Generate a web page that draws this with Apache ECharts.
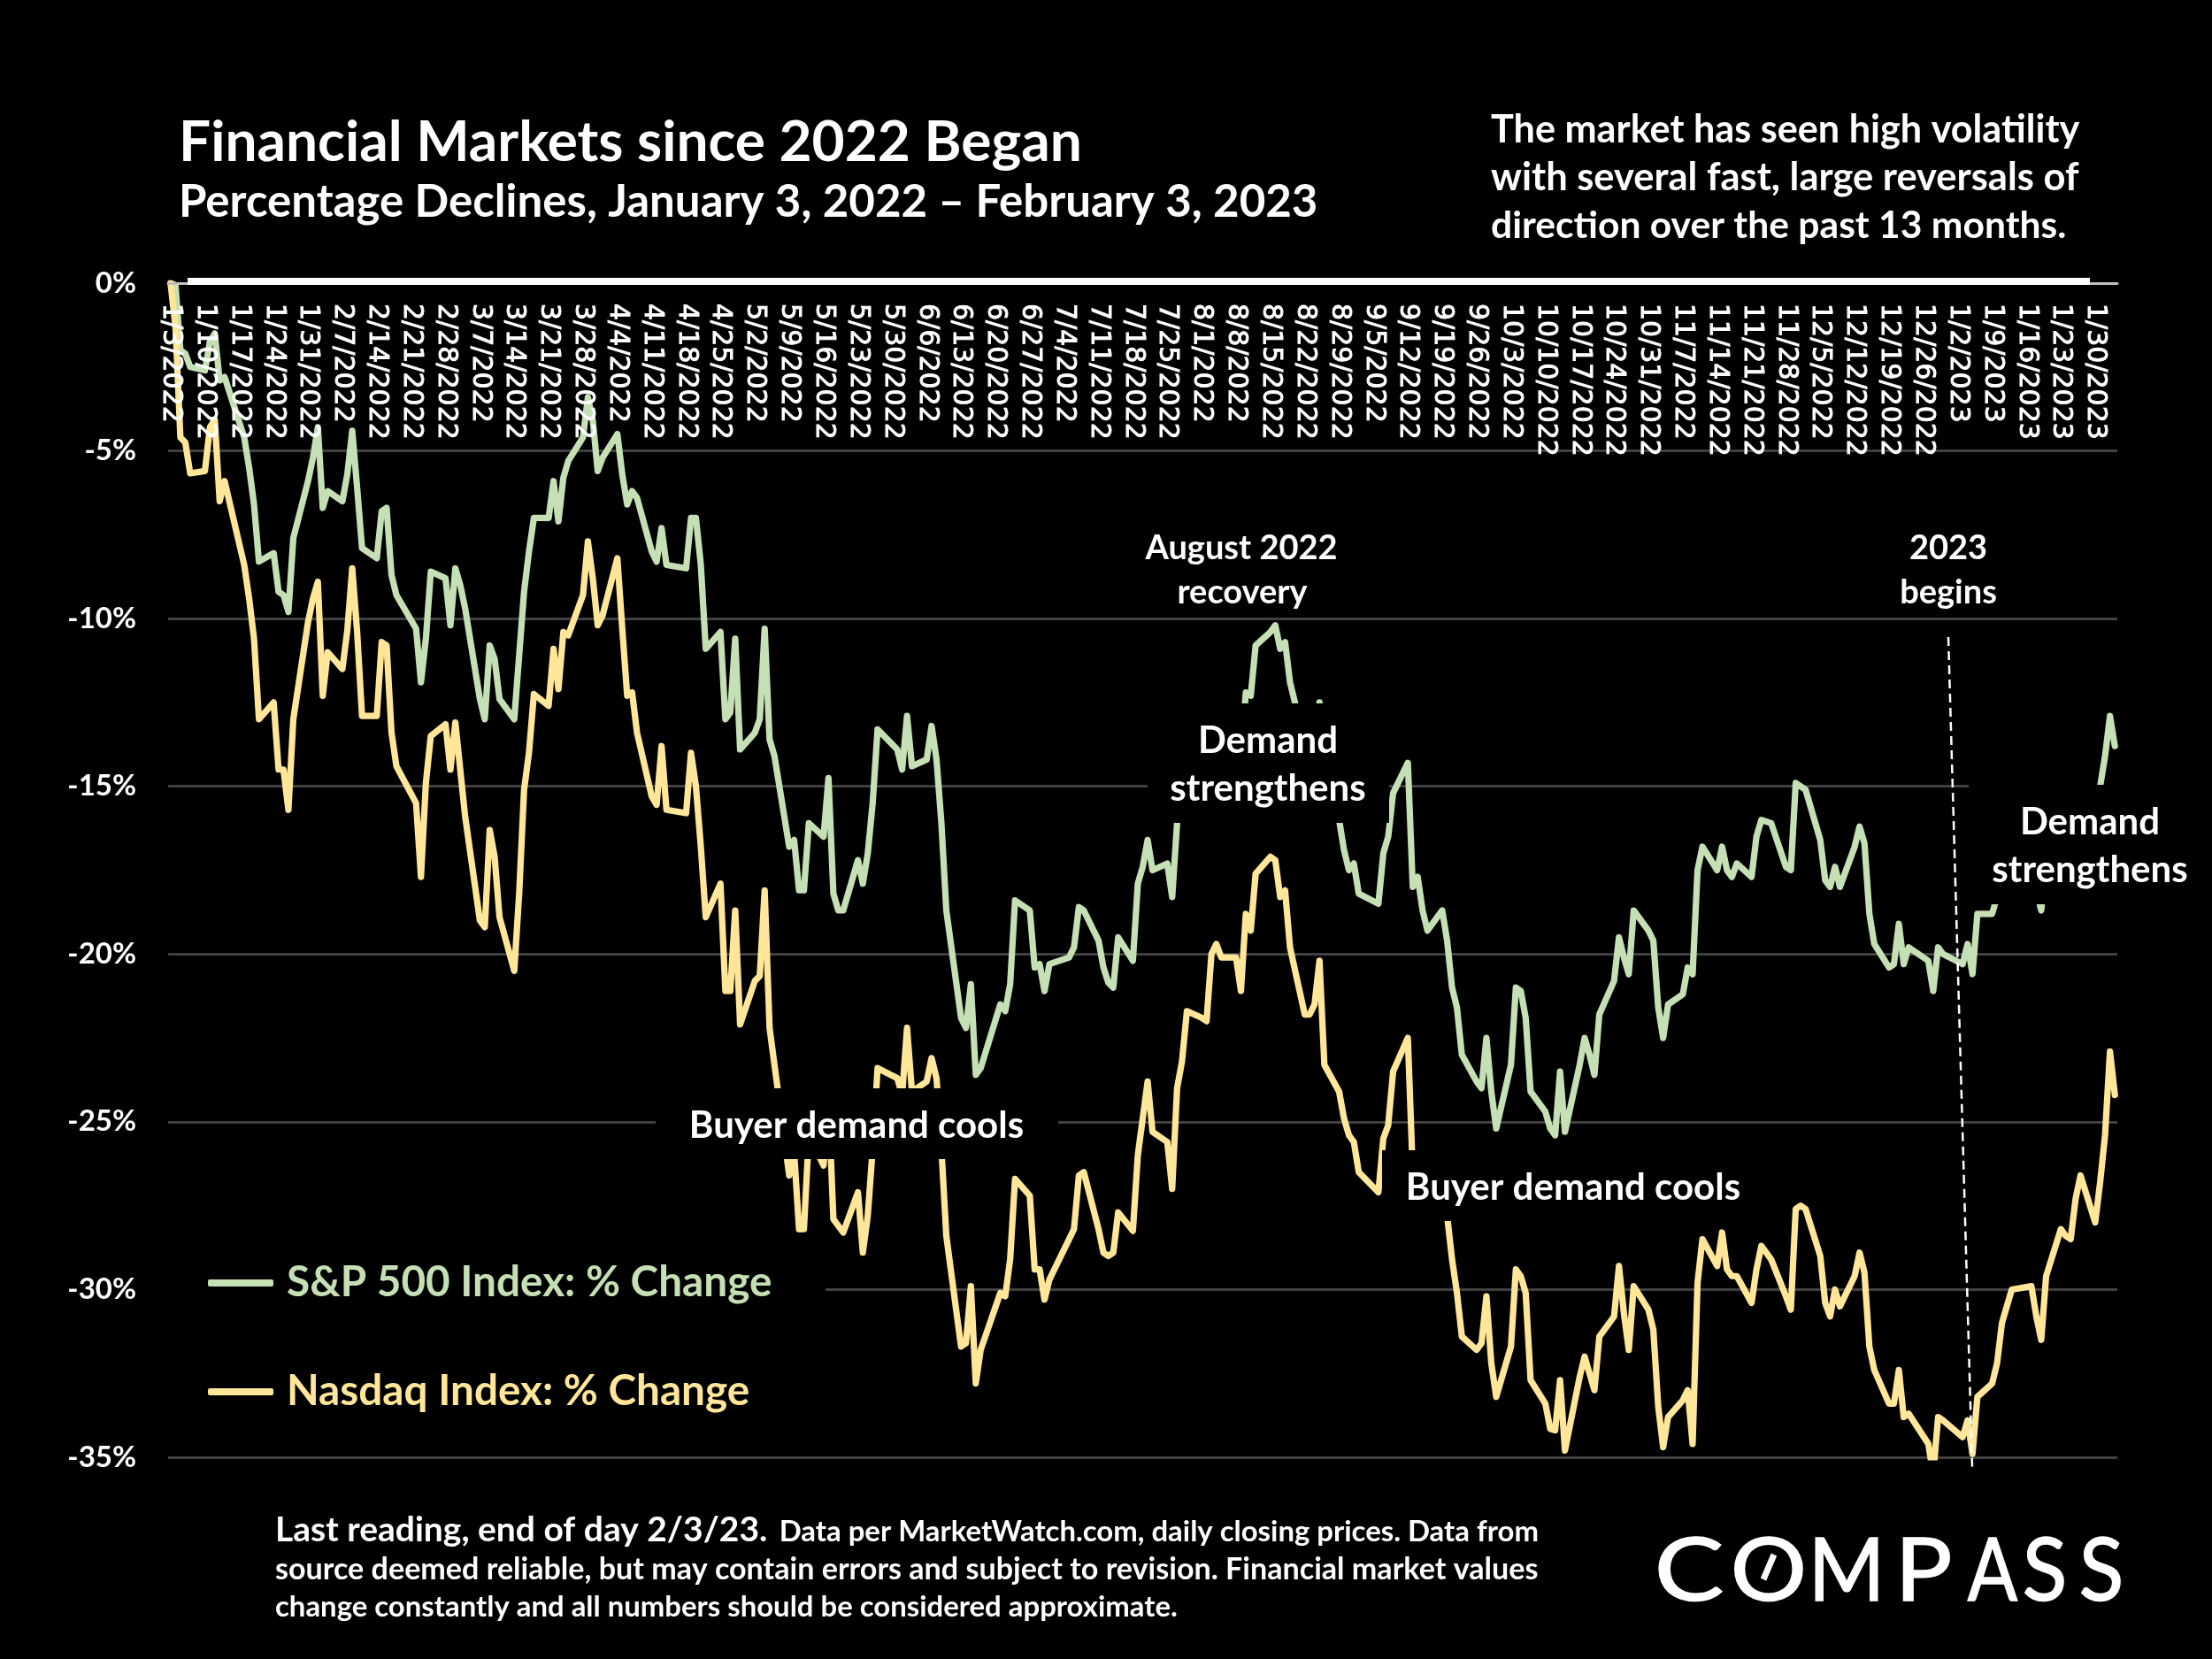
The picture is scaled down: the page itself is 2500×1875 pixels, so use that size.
<!DOCTYPE html>
<html><head><meta charset="utf-8">
<style>html,body{margin:0;padding:0;background:#000}#c{width:2500px;height:1875px}</style>
<script src="https://cdn.jsdelivr.net/npm/echarts@6/dist/echarts.min.js"></script>
</head><body><div id="c"></div>
<script>
// One row per week, Monday to Friday; null = market closed.
const firstMonday = [2022, 0, 3];
const sp500 = [
0,-0.06,-2.0,-2.1,-2.5,
-2.6,-1.75,-1.5,-2.9,-2.8,
null,-4.6,-5.5,-6.6,-8.3,
-8.05,-9.2,-9.3,-9.8,-7.6,
-5.9,-5.2,-4.3,-6.7,-6.2,
-6.5,-5.7,-4.4,-6.1,-7.9,
-8.2,-6.8,-6.7,-8.7,-9.3,
null,-10.3,-11.9,-10.6,-8.6,
-8.8,-10.2,-8.5,-9.0,-9.7,
-12.4,-13.0,-10.8,-11.2,-12.4,
-13.0,-11.1,-9.2,-8.0,-7.0,
-7.0,-5.9,-7.1,-5.8,-5.3,
-4.6,-3.4,-4.1,-5.6,-5.2,
-4.5,-5.7,-6.6,-6.2,-6.4,
-8.0,-8.3,-7.3,-8.4,null,
-8.5,-7.0,-7.0,-8.4,-10.9,
-10.4,-13.0,-12.8,-10.6,-13.9,
-13.4,-13.0,-10.3,-13.6,-14.1,
-16.8,-16.6,-18.1,-18.1,-16.1,
-16.5,-14.75,-18.2,-18.7,-18.7,
-17.2,-17.9,-17.0,-15.5,-13.3,
null,-13.9,-14.5,-12.9,-14.4,
-14.2,-13.2,-14.2,-16.1,-18.7,
-21.9,-22.2,-20.9,-23.6,-23.4,
null,-21.5,-21.7,-20.9,-18.4,
-18.7,-20.4,-20.3,-21.1,-20.3,
null,-20.1,-19.8,-18.6,-18.7,
-19.6,-20.4,-20.85,-21.0,-19.5,
-20.2,-17.9,-17.4,-16.6,-17.5,
-17.3,-18.3,-16.1,-15.1,-13.9,
-14.1,-14.7,-13.4,-13.4,-13.6,
-13.7,-14.1,-12.2,-12.3,-10.8,
-10.4,-10.2,-10.9,-10.7,-11.9,
-13.7,-13.9,-13.7,-12.5,-15.4,
-16.0,-16.9,-17.5,-17.3,-18.2,
null,-18.5,-17.0,-16.5,-15.2,
-14.3,-18.0,-17.7,-18.7,-19.3,
-18.7,-19.6,-21.0,-21.6,-23.0,
-23.8,-24.0,-22.5,-24.1,-25.2,
-23.3,-21.0,-21.1,-21.9,-24.1,
-24.7,-25.2,-25.4,-23.5,-25.3,
-23.3,-22.5,-23.0,-23.6,-21.8,
-20.8,-19.5,-20.1,-20.6,-18.7,
-19.3,-19.6,-21.6,-22.5,-21.5,
-21.2,-20.4,-20.6,-17.5,-16.8,
-17.5,-16.8,-17.5,-17.7,-17.3,
-17.7,-16.5,-16.0,null,-16.1,
-17.4,-17.5,-14.9,-15.0,-15.1,
-16.6,-17.8,-18.0,-17.4,-18.0,
-16.8,-16.2,-16.7,-18.8,-19.7,
-20.4,-20.3,-19.1,-20.3,-19.8,
null,-20.2,-21.1,-19.8,-20.0,
null,-20.3,-19.7,-20.6,-18.8,
-18.8,-18.3,-17.2,-17.0,-16.6,
null,-16.8,-18.1,-18.7,-17.2,
-16.2,-16.3,-16.3,-15.4,-15.1,
-16.3,-15.0,-14.1,-12.9,-13.8
];
const nasdaq = [
0,-1.3,-4.6,-4.75,-5.67,
-5.6,-4.3,-4.07,-6.5,-5.9,
null,-8.4,-9.4,-10.6,-13.0,
-12.5,-14.5,-14.5,-15.7,-13.0,
-10.1,-9.4,-8.9,-12.3,-11.0,
-11.5,-10.35,-8.5,-10.4,-12.9,
-12.9,-10.7,-10.8,-13.4,-14.4,
null,-15.5,-17.7,-14.9,-13.5,
-13.15,-14.5,-13.1,-14.5,-15.9,
-19.0,-19.2,-16.3,-17.1,-18.9,
-20.5,-18.2,-15.1,-14.0,-12.25,
-12.6,-10.9,-12.1,-10.4,-10.5,
-9.3,-7.7,-8.8,-10.2,-9.9,
-8.2,-10.3,-12.3,-12.2,-13.4,
-15.3,-15.55,-13.8,-15.7,null,
-15.8,-14.0,-15.0,-16.8,-18.9,
-17.9,-21.1,-21.1,-18.7,-22.1,
-20.8,-20.65,-18.1,-22.2,-23.3,
-26.6,-25.9,-28.2,-28.2,-25.4,
-26.3,-24.3,-27.9,-28.1,-28.3,
-27.1,-28.9,-27.8,-25.8,-23.4,
null,-23.7,-24.2,-22.2,-24.1,
-23.8,-23.1,-23.7,-25.8,-28.4,
-31.7,-31.6,-29.9,-32.8,-31.8,
null,-30.1,-30.2,-29.1,-26.7,
-27.2,-29.4,-29.4,-30.3,-29.7,
null,-28.5,-28.2,-26.6,-26.5,
-28.2,-28.9,-29.0,-28.9,-27.7,
-28.25,-26.0,-24.9,-23.8,-25.3,
-25.6,-27.0,-24.0,-23.2,-21.7,
-21.9,-22.0,-20.0,-19.7,-20.1,
-20.1,-21.1,-18.8,-19.3,-17.6,
-17.1,-17.2,-18.3,-18.1,-19.8,
-21.8,-21.8,-21.5,-20.2,-23.3,
-24.1,-24.9,-25.4,-25.6,-26.5,
null,-27.1,-25.5,-25.1,-23.5,
-22.5,-26.5,-26.0,-27.0,-27.7,
-27.1,-27.8,-29.1,-30.1,-31.4,
-31.8,-31.6,-30.2,-32.2,-33.2,
-31.7,-29.4,-29.6,-30.1,-32.7,
-33.4,-34.15,-34.2,-32.7,-34.8,
-32.6,-32.0,-32.5,-33.0,-31.4,
-30.8,-29.3,-30.7,-31.8,-29.9,
-30.6,-31.2,-33.5,-34.7,-33.8,
-33.3,-33.0,-34.6,-29.8,-28.5,
-29.3,-28.3,-29.4,-29.6,-29.6,
-30.4,-29.4,-28.7,null,-29.1,
-30.2,-30.6,-27.6,-27.5,-27.6,
-29.0,-30.4,-30.8,-30.0,-30.5,
-29.6,-28.9,-29.5,-31.7,-32.4,
-33.4,-33.4,-32.4,-33.8,-33.7,
null,-34.6,-35.5,-33.8,-33.9,
null,-34.4,-33.9,-34.9,-33.2,
-32.8,-32.2,-31.0,-30.5,-30.0,
null,-29.9,-30.8,-31.5,-29.6,
-28.2,-28.4,-28.5,-27.3,-26.6,
-28.0,-26.8,-25.4,-22.9,-24.2
];
const seriesNames = ['S&P 500 Index: % Change', 'Nasdaq Index: % Change'];

// Calendar-day category axis, as a date axis: weekends carry no value.
const categories = [], spByDay = [], nqByDay = [];
for (let w = 0; w < sp500.length / 5; w++) {
  for (let d = 0; d < 7; d++) {
    const dt = new Date(firstMonday[0], firstMonday[1], firstMonday[2] + w * 7 + d);
    if (w === sp500.length / 5 - 1 && d > 4) break;
    categories.push((dt.getMonth() + 1) + '/' + dt.getDate() + '/' + dt.getFullYear());
    spByDay.push(d < 5 ? sp500[w * 5 + d] : null);
    nqByDay.push(d < 5 ? nasdaq[w * 5 + d] : null);
  }
}

const WHITE = '#ffffff', GREEN = '#C5E0B4', YELLOW = '#FFE699', GRID = '#404040';
const F = 'Lato, sans-serif';

function txt(text, x, baseline, size, align, weight, sx) {
  return { type: 'text', z: 12, x: x, y: baseline - size * 0.3 + 1, scaleX: sx || 1,
    style: { text: text, fill: WHITE, font: (weight || 700) + ' ' + size + 'px ' + F, align: align || 'left', verticalAlign: 'middle' } };
}
function logoLetter(text, x, sx) {
  const el = txt(text, x, 1806, 98, 'center', 400, sx);
  el.style.stroke = WHITE;
  el.style.lineWidth = 1.5;
  return el;
}
function mask(x, y, w, h) {
  return { type: 'rect', z: 10, shape: { x: x, y: y, width: w, height: h }, style: { fill: '#000' } };
}

const graphics = [
  // black text boxes that sit over the lines
  mask(741, 1230, 455, 80),
  mask(1562, 1300, 413, 80),
  mask(1297, 795, 273, 135),
  mask(2225, 887, 275, 135),
  mask(185, 1440, 748, 40),
  // top rule
  { type: 'rect', z: 11, shape: { x: 212, y: 314, width: 2150, height: 8 }, style: { fill: WHITE } },
  // 2023 divider
  { type: 'line', z: 11, shape: { x1: 2202, y1: 720, x2: 2229, y2: 1658 }, style: { stroke: WHITE, lineWidth: 2.5, lineDash: [10, 6] } },
  txt('Financial Markets since 2022 Began', 202, 180, 64),
  txt('Percentage Declines, January 3, 2022 – February 3, 2023', 202, 243, 51),
  txt('The market has seen high volatility', 1685, 159, 43.2),
  txt('with several fast, large reversals of', 1685, 213, 43.5),
  txt('direction over the past 13 months.', 1685, 267, 42.6),
  txt('August 2022', 1403, 630.5, 38, 'center'),
  txt('recovery', 1404, 680.5, 38, 'center'),
  txt('2023', 2202, 630.5, 38, 'center'),
  txt('begins', 2202, 680.5, 38, 'center'),
  txt('Demand', 1433, 849, 42, 'center'),
  txt('strengthens', 1433, 903, 42, 'center'),
  txt('Demand', 2362, 941, 42, 'center'),
  txt('strengthens', 2362, 995, 42, 'center'),
  txt('Buyer demand cools', 968, 1284, 42, 'center'),
  txt('Buyer demand cools', 1778, 1354, 42, 'center'),
  txt('Last reading, end of day 2/3/23.', 311, 1740, 39),
  txt('Data per MarketWatch.com, daily closing prices. Data from', 1739, 1740, 32.9, 'right'),
  txt('source deemed reliable, but may contain errors and subject to revision. Financial market values', 311, 1783, 34.1),
  txt('change constantly and all numbers should be considered approximate.', 311, 1825, 32.9),
  // wordmark
  logoLetter('C', 1909, 1.2),
  logoLetter('O', 1999, 1.1),
  { type: 'line', z: 12, shape: { x1: 1993, y1: 1785, x2: 2005, y2: 1757 }, style: { stroke: WHITE, lineWidth: 7 } },
  logoLetter('M', 2087, 0.95),
  logoLetter('P', 2174, 1.1),
  logoLetter('A', 2252, 0.85),
  logoLetter('S', 2311, 0.95),
  logoLetter('S', 2375, 0.95)
];

const chart = echarts.init(document.getElementById('c'), null, { renderer: 'canvas', width: 2500, height: 1875 });
chart.setOption({
  backgroundColor: '#000',
  animation: false,
  grid: { left: 190, top: 320, width: 2203, height: 1327, containLabel: false },
  legend: {
    z: 20, orient: 'vertical', left: 235, top: 1426, padding: 0, itemGap: 75, itemWidth: 74, itemHeight: 8,
    icon: 'roundRect', selectedMode: false,
    textStyle: { color: 'inherit', fontFamily: F, fontWeight: 700, fontSize: 47.7, padding: [0, 0, 0, 10] },
    data: seriesNames
  },
  xAxis: {
    type: 'category', position: 'top', z: 5, data: categories, boundaryGap: true,
    axisLine: { onZero: false, lineStyle: { color: '#BFBFBF', width: 3 } },
    axisTick: { show: false },
    splitLine: { show: false },
    axisLabel: { inside: true, rotate: 90, interval: 6, margin: 23, color: WHITE, fontFamily: 'DejaVu Sans', fontWeight: 400, fontSize: 30, textBorderColor: WHITE, textBorderWidth: 0.9, hideOverlap: false }
  },
  yAxis: {
    type: 'value', min: -35, max: 0, interval: 5,
    axisLine: { show: false }, axisTick: { show: false },
    splitLine: { lineStyle: { color: GRID, width: 3 } },
    axisLabel: { margin: 36, color: WHITE, fontFamily: F, fontWeight: 700, fontSize: 33, formatter: v => v + '%' }
  },
  series: [
    { name: seriesNames[0], type: 'line', data: spByDay, connectNulls: true, showSymbol: false, symbol: 'none', smooth: false,
      lineStyle: { color: GREEN, width: 7.2, cap: 'round', join: 'round' }, itemStyle: { color: GREEN } },
    { name: seriesNames[1], type: 'line', data: nqByDay, connectNulls: true, showSymbol: false, symbol: 'none', smooth: false,
      lineStyle: { color: YELLOW, width: 7.2, cap: 'round', join: 'round' }, itemStyle: { color: YELLOW } }
  ],
  graphic: { elements: graphics }
});
</script></body></html>
